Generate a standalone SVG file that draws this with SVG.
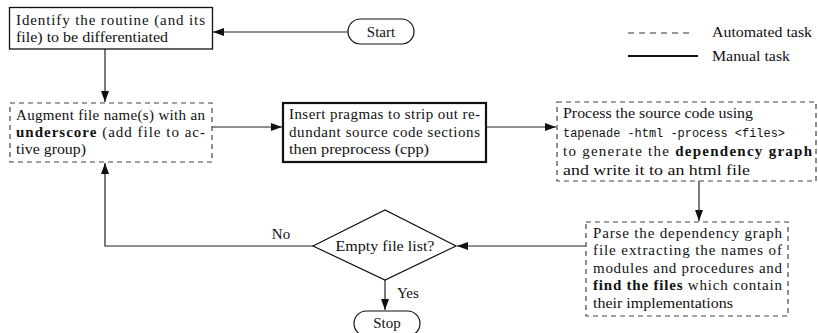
<svg xmlns="http://www.w3.org/2000/svg" width="818" height="333" viewBox="0 0 818 333">
<style>
text{font-family:"Liberation Serif","DejaVu Serif",serif;font-size:15px;fill:#111}
.b{font-weight:bold}
.m{font-family:"Liberation Mono","DejaVu Sans Mono",monospace;font-size:12.5px}
.c{text-anchor:middle}
.dash{fill:#fff;stroke:#444;stroke-width:1.2;stroke-dasharray:5 4}
.solid{fill:#fff;stroke:#111;stroke-width:1.3}
.thick{fill:#fff;stroke:#111;stroke-width:2.2}
.term{fill:#fff;stroke:#111;stroke-width:1.2}
.conn{fill:none;stroke:#222;stroke-width:1.2;marker-end:url(#ah)}
</style>
<defs>
<marker id="ah" markerUnits="userSpaceOnUse" markerWidth="12" markerHeight="9" refX="11" refY="4.5" orient="auto">
<path d="M0,0.5 L11,4.5 L0,8.5 z" fill="#111"/>
</marker>
</defs>
<rect width="818" height="333" fill="#fff"/>

<g id="legend">
<line x1="628" y1="33" x2="694" y2="33" stroke="#333" stroke-width="1.2" stroke-dasharray="6 5"/>
<text x="712" y="37" textLength="100" lengthAdjust="spacingAndGlyphs">Automated task</text>
<line x1="628" y1="56" x2="698" y2="56" stroke="#111" stroke-width="2"/>
<text x="712" y="61" textLength="78" lengthAdjust="spacingAndGlyphs">Manual task</text>
</g>

<g id="connectors">
<line class="conn" x1="348" y1="32" x2="213" y2="32"/>
<line class="conn" x1="105" y1="49" x2="105" y2="102"/>
<line class="conn" x1="212" y1="127" x2="282" y2="127"/>
<line class="conn" x1="486" y1="127" x2="556" y2="127"/>
<line class="conn" x1="699" y1="181" x2="699" y2="221"/>
<line class="conn" x1="586" y1="246" x2="457" y2="246"/>
<polyline class="conn" points="313,246 105,246 105,163"/>
<line class="conn" x1="385" y1="280" x2="385" y2="310"/>
<text x="281" y="239" class="c">No</text>
<text x="397" y="298">Yes</text>
</g>

<g id="start">
<rect class="term" x="348" y="19" width="66" height="25" rx="12.5"/>
<text x="381" y="37" class="c">Start</text>
</g>

<g id="identify">
<rect class="solid" x="9.5" y="7.5" width="203" height="41.5"/>
<text x="16" y="25" textLength="189" lengthAdjust="spacing">Identify the routine (and its</text>
<text x="16" y="42" textLength="152" lengthAdjust="spacingAndGlyphs">file) to be differentiated</text>
</g>

<g id="augment">
<rect class="dash" x="10" y="103" width="202" height="59"/>
<text x="16" y="120" textLength="189" lengthAdjust="spacing">Augment file name(s) with an</text>
<text x="16" y="137" textLength="189" lengthAdjust="spacing"><tspan class="b">underscore</tspan> (add file to ac-</text>
<text x="16" y="154" textLength="70" lengthAdjust="spacingAndGlyphs">tive group)</text>
</g>

<g id="pragmas">
<rect class="thick" x="283" y="103" width="203" height="59"/>
<text x="289" y="119" textLength="191" lengthAdjust="spacing">Insert pragmas to strip out re-</text>
<text x="289" y="137" textLength="191" lengthAdjust="spacing">dundant source code sections</text>
<text x="289" y="154" textLength="140" lengthAdjust="spacingAndGlyphs">then preprocess (cpp)</text>
</g>

<g id="process">
<rect class="dash" x="557" y="102" width="259" height="79"/>
<text x="563" y="118" textLength="190" lengthAdjust="spacingAndGlyphs">Process the source code using</text>
<text x="563" y="137" class="m" textLength="222" lengthAdjust="spacingAndGlyphs">tapenade -html -process &lt;files&gt;</text>
<text x="563" y="156" textLength="249" lengthAdjust="spacing">to generate the <tspan class="b">dependency graph</tspan></text>
<text x="563" y="175" textLength="187" lengthAdjust="spacingAndGlyphs">and write it to an html file</text>
</g>

<g id="parse">
<rect class="dash" x="586" y="222" width="202" height="94"/>
<text x="593" y="238" textLength="189" lengthAdjust="spacing">Parse the dependency graph</text>
<text x="593" y="255" textLength="189" lengthAdjust="spacing">file extracting the names of</text>
<text x="593" y="273" textLength="189" lengthAdjust="spacing">modules and procedures and</text>
<text x="593" y="290" textLength="189" lengthAdjust="spacing"><tspan class="b">find the files</tspan> which contain</text>
<text x="593" y="308" textLength="140" lengthAdjust="spacingAndGlyphs">their implementations</text>
</g>

<g id="decision">
<polygon class="term" points="313,246 385,210 456,246 385,280"/>
<text x="385" y="251" class="c" textLength="99" lengthAdjust="spacingAndGlyphs">Empty file list?</text>
</g>

<g id="stop">
<rect class="term" x="354" y="311" width="66" height="25" rx="12.5"/>
<text x="387" y="328" class="c">Stop</text>
</g>
</svg>
